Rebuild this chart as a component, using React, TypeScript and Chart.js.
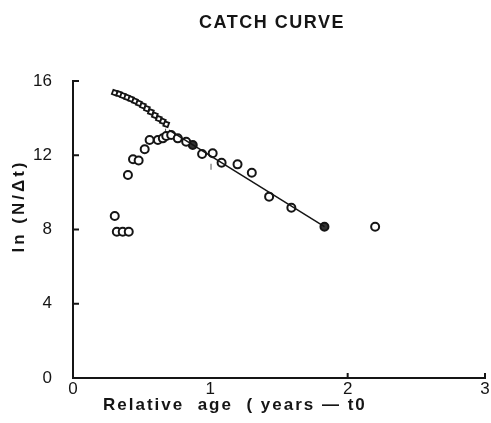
import React, { useEffect, useRef } from "react";
import { Chart, registerables } from "chart.js";

Chart.register(...registerables);

const chartTitle = "CATCH CURVE";
const xAxisTitle = "Relative  age  ( years — t0";
const yAxisTitle = "ln (N/Δt)";
const xTickLabels = ["0", "1", "2", "3"];
const yTickLabels = ["0", "4", "8", "12", "16"];

// upper descending chain (squares)
const upperX = [0.304, 0.336, 0.364, 0.393, 0.422, 0.451, 0.48, 0.509, 0.538, 0.567, 0.596, 0.625, 0.654, 0.679];
const upperY = [15.37, 15.3, 15.21, 15.12, 15.03, 14.92, 14.8, 14.67, 14.51, 14.33, 14.15, 13.97, 13.83, 13.67];

// rising branch (hollow circles)
const risingX = [0.304, 0.319, 0.362, 0.406, 0.4, 0.437, 0.478, 0.522, 0.558, 0.618, 0.654, 0.679, 0.715, 0.763, 0.824];
const risingY = [8.73, 7.88, 7.88, 7.88, 10.94, 11.78, 11.72, 12.32, 12.82, 12.82, 12.91, 13.04, 13.09, 12.91, 12.73];

// descending limb used for the fit
const fallX = [0.872, 0.94, 1.017, 1.082, 1.198, 1.302, 1.428, 1.59, 1.831];
const fallY = [12.55, 12.07, 12.11, 11.6, 11.51, 11.06, 9.77, 9.17, 8.15];
const fallFilled = [true, false, false, false, false, false, false, false, true];

// isolated point
const isolatedX = [2.2];
const isolatedY = [8.15];

// small dotted marks
const dotsX = [0.546, 0.674, 1.005];
const dotsY = [12.85, 13.27, 11.38];

// fitted regression line
const fitX = [0.7, 1.831];
const fitY = [13.35, 8.15];

const toPts = (xs: number[], ys: number[]) => xs.map((x, i) => ({ x, y: ys[i] }));

const INK = "#151515";
const FONT = '"Liberation Sans", Arial, sans-serif';

const decor = {
  id: "decor",
  afterDraw(chart: any) {
    const { ctx } = chart;
    const xs = chart.scales.x;
    const ys = chart.scales.y;
    const left = chart.chartArea.left;
    const bottom = chart.chartArea.bottom;
    ctx.save();
    ctx.strokeStyle = INK;
    ctx.lineWidth = 2;
    // inward y ticks
    yTickLabels.forEach((t) => {
      const py = ys.getPixelForValue(Number(t));
      ctx.beginPath();
      ctx.moveTo(left, py);
      ctx.lineTo(left + 6, py);
      ctx.stroke();
    });
    // upward x ticks
    xTickLabels.slice(2).forEach((t) => {
      const px = xs.getPixelForValue(Number(t));
      ctx.beginPath();
      ctx.moveTo(px, bottom);
      ctx.lineTo(px, bottom - 5);
      ctx.stroke();
    });
    ctx.fillStyle = INK;
    // title
    ctx.font = `bold 18px ${FONT}`;
    (ctx as any).letterSpacing = "1.5px";
    ctx.textAlign = "center";
    ctx.textBaseline = "middle";
    ctx.fillText(chartTitle, 272, 23);
    // x title
    ctx.font = `bold 17px ${FONT}`;
    (ctx as any).letterSpacing = "2px";
    ctx.textAlign = "left";
    ctx.fillText(xAxisTitle, 103, 405);
    // y title
    ctx.translate(19, 206);
    ctx.rotate(-Math.PI / 2);
    (ctx as any).letterSpacing = "3px";
    ctx.textAlign = "center";
    ctx.fillText(yAxisTitle, 0, 0);
    ctx.restore();
  },
};

export default function App() {
  const ref = useRef<HTMLCanvasElement | null>(null);
  useEffect(() => {
    if (!ref.current) return;
    const chart = new Chart(ref.current, {
      type: "scatter",
      data: {
        datasets: [
          {
            label: "fit",
            data: toPts(fitX, fitY),
            showLine: true,
            borderColor: INK,
            borderWidth: 1.5,
            pointRadius: 0,
          },
          {
            label: "upper",
            data: toPts(upperX, upperY),
            pointStyle: "rect",
            rotation: 20,
            pointRadius: 3.2,
            borderColor: INK,
            borderWidth: 1.8,
            backgroundColor: "#ffffff",
          },
          {
            label: "rising",
            data: toPts(risingX, risingY),
            pointStyle: "circle",
            pointRadius: 4,
            borderColor: INK,
            borderWidth: 2,
            backgroundColor: "#ffffff",
          },
          {
            label: "fall",
            data: toPts(fallX, fallY),
            pointStyle: "circle",
            pointRadius: 4,
            borderColor: INK,
            borderWidth: 2,
            backgroundColor: fallFilled.map((f) => (f ? "#333333" : "#ffffff")),
          },
          {
            label: "isolated",
            data: toPts(isolatedX, isolatedY),
            pointStyle: "circle",
            pointRadius: 4,
            borderColor: INK,
            borderWidth: 2,
            backgroundColor: "#ffffff",
          },
          {
            label: "dots",
            data: toPts(dotsX, dotsY),
            pointStyle: "line",
            rotation: 90,
            pointRadius: 3,
            borderColor: "#555555",
            borderWidth: 1,
          },
        ],
      },
      options: {
        responsive: false,
        animation: false,
        layout: { padding: { top: 81, right: 5, left: 0, bottom: 0 } },
        plugins: {
          legend: { display: false },
          tooltip: { enabled: false },
          title: { display: false },
        },
        scales: {
          x: {
            type: "linear",
            min: 0,
            max: 3,
            grid: { display: false },
            border: { display: true, color: INK, width: 2 },
            ticks: {
              stepSize: 1,
              padding: -7,
              color: INK,
              font: { family: FONT, size: 17 },
              callback: (v: any, i: number) => xTickLabels[i],
              maxRotation: 0,
            },
            afterFit: (s: any) => {
              s.height = 45;
            },
          },
          y: {
            type: "linear",
            min: 0,
            max: 16,
            grid: { display: false },
            border: { display: true, color: INK, width: 2 },
            ticks: {
              stepSize: 4,
              padding: 13,
              color: INK,
              font: { family: FONT, size: 17 },
              callback: (v: any, i: number) => yTickLabels[i],
            },
            afterFit: (s: any) => {
              s.width = 73;
            },
          },
        },
      },
      plugins: [decor],
    });
    return () => chart.destroy();
  }, []);
  return (
    <div style={{ position: "absolute", left: 0, top: 0, width: 491, height: 423, background: "#fff" }}>
      <canvas ref={ref} width={491} height={423} />
    </div>
  );
}
